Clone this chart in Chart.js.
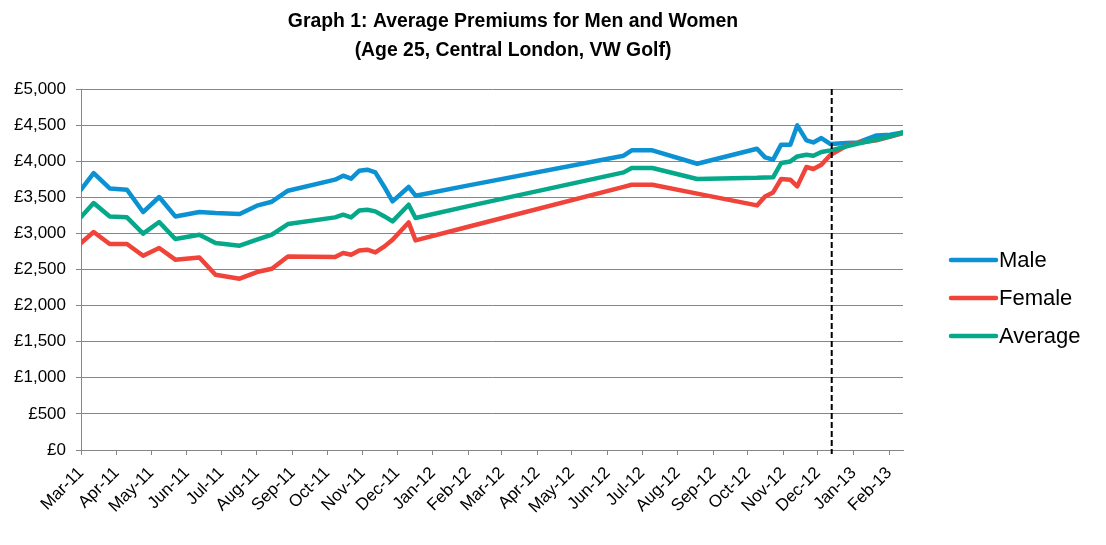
<!DOCTYPE html>
<html>
<head>
<meta charset="utf-8">
<script src="https://cdn.jsdelivr.net/npm/chart.js@4.4.1/dist/chart.umd.min.js"></script>
<style>
    body { margin: 0; background: #fff; }
    canvas { display: block; }
</style>
</head>
<body>
<canvas id="premiumChart" width="1106" height="545"></canvas>
<script>
// survey dates and average premiums (£)
const dates = ['2011-03-01','2011-03-12','2011-03-26','2011-04-10','2011-04-24','2011-05-08','2011-05-22',
    '2011-06-12','2011-06-26','2011-07-17','2011-08-01','2011-08-14','2011-08-28','2011-10-08','2011-10-15',
    '2011-10-22','2011-10-29','2011-11-05','2011-11-12','2011-11-20','2011-11-27','2011-12-11','2011-12-17',
    '2012-01-31','2012-06-15','2012-06-22','2012-07-10','2012-08-18','2012-10-09','2012-10-16','2012-10-23',
    '2012-10-30','2012-11-07','2012-11-13','2012-11-21','2012-11-27','2012-12-04','2012-12-12','2012-12-26',
    '2013-01-05','2013-01-21','2013-02-02','2013-02-13'];
const maleValues = [3605,3836,3623,3605,3296,3504,3235,3296,3282,3269,3384,3439,3591,3744,3799,3758,3868,
    3882,3845,3640,3443,3643,3522,3662,4076,4150,4150,3965,4173,4053,4021,4229,4229,4496,4288,4260,4321,
    4238,4252,4260,4357,4367,4399];
const femaleValues = [2867,3019,2853,2853,2691,2798,2636,2667,2428,2373,2465,2511,2681,2673,2728,2705,2764,
    2774,2737,2820,2913,3152,2903,3089,3644,3674,3674,3551,3388,3512,3568,3753,3744,3651,3920,3892,3951,
    4090,4215,4255,4290,4340,4390];
const averageValues = [3227,3421,3235,3222,2996,3158,2922,2982,2867,2830,2913,2982,3130,3222,3259,3222,3318,
    3328,3305,3235,3166,3397,3213,3375,3845,3906,3906,3753,3770,3775,3776,3975,3997,4066,4090,4076,4127,
    4150,4205,4245,4300,4345,4399];
const tickLabels = ['Mar-11','Apr-11','May-11','Jun-11','Jul-11','Aug-11','Sep-11','Oct-11','Nov-11','Dec-11',
    'Jan-12','Feb-12','Mar-12','Apr-12','May-12','Jun-12','Jul-12','Aug-12','Sep-12','Oct-12','Nov-12',
    'Dec-12','Jan-13','Feb-13'];
const markerDate = '2012-12-13';

const MONTHS = ['Jan','Feb','Mar','Apr','May','Jun','Jul','Aug','Sep','Oct','Nov','Dec'];
const BASE = Date.UTC(2011, 2, 1);

function toDay(s) {
    const [y, m, d] = s.split('-').map(Number);
    return (Date.UTC(y, m - 1, d) - BASE) / 86400000;
}
function labelDay(l) {
    const [mon, yy] = l.split('-');
    return (Date.UTC(2000 + Number(yy), MONTHS.indexOf(mon), 1) - BASE) / 86400000;
}
function points(values) {
    return dates.map((d, i) => ({ x: toDay(d), y: values[i] }));
}

const FONT = "'Liberation Sans', Arial, sans-serif";
const GREY = '#868686';

const decor = {
    id: 'decor',
    afterDatasetsDraw(chart) {
        const ctx = chart.ctx;
        const x = chart.scales.x.getPixelForValue(toDay(markerDate));
        ctx.save();
        ctx.strokeStyle = '#000';
        ctx.lineWidth = 2;
        ctx.setLineDash([6, 3]);
        ctx.beginPath();
        ctx.moveTo(x, chart.chartArea.top);
        ctx.lineTo(x, chart.chartArea.bottom + 4);
        ctx.stroke();
        ctx.restore();
    },
    afterDraw(chart) {
        const ctx = chart.ctx;
        ctx.save();
        // title
        ctx.fillStyle = '#000';
        ctx.textAlign = 'center';
        ctx.textBaseline = 'middle';
        ctx.font = 'bold 19.4px ' + FONT;
        ctx.fillText('Graph 1: Average Premiums for Men and Women', 513, 22);
        ctx.fillText('(Age 25, Central London, VW Golf)', 513, 51);
        // legend
        const items = [chart.data.datasets[2], chart.data.datasets[1], chart.data.datasets[0]];
        ctx.font = '22px ' + FONT;
        ctx.textAlign = 'left';
        items.forEach((ds, i) => {
            const y = 260 + i * 38;
            ctx.strokeStyle = ds.borderColor;
            ctx.lineWidth = 4.5;
            ctx.lineCap = 'round';
            ctx.beginPath();
            ctx.moveTo(951, y);
            ctx.lineTo(996, y);
            ctx.stroke();
            ctx.fillText(ds.label, 999, y + 1);
        });
        ctx.restore();
    }
};

new Chart(document.getElementById('premiumChart'), {
    type: 'line',
    data: {
        datasets: [
            { label: 'Average', data: points(averageValues), borderColor: '#06a88a', order: 0 },
            { label: 'Female', data: points(femaleValues), borderColor: '#f0433a', order: 1 },
            { label: 'Male', data: points(maleValues), borderColor: '#0c92d2', order: 2 }
        ]
    },
    options: {
        responsive: false,
        animation: false,
        layout: { padding: { top: 89, right: 203, left: 0, bottom: 0 } },
        elements: {
            line: { tension: 0, borderWidth: 4.5, borderJoinStyle: 'round', borderCapStyle: 'round', fill: false },
            point: { radius: 0 }
        },
        plugins: {
            legend: { display: false },
            tooltip: { enabled: false }
        },
        scales: {
            x: {
                type: 'linear',
                min: 0,
                max: toDay(dates[dates.length - 1]),
                afterBuildTicks: s => { s.ticks = tickLabels.map(l => ({ value: labelDay(l) })); },
                afterFit: s => { s.height = 95; },
                ticks: {
                    autoSkip: false,
                    minRotation: 45,
                    maxRotation: 45,
                    padding: 8,
                    color: '#000',
                    font: { family: FONT, size: 17 },
                    callback: (v, i) => tickLabels[i]
                },
                grid: { drawOnChartArea: false, tickLength: 5, color: GREY },
                border: { color: GREY }
            },
            y: {
                min: 0,
                max: 5000,
                afterFit: s => { s.width = 81; },
                ticks: {
                    stepSize: 500,
                    padding: 10,
                    color: '#000',
                    font: { family: FONT, size: 17 },
                    callback: v => '£' + v.toLocaleString('en-GB')
                },
                grid: { color: GREY, tickLength: 5 },
                border: { color: GREY }
            }
        }
    },
    plugins: [decor]
});
</script>
</body>
</html>
